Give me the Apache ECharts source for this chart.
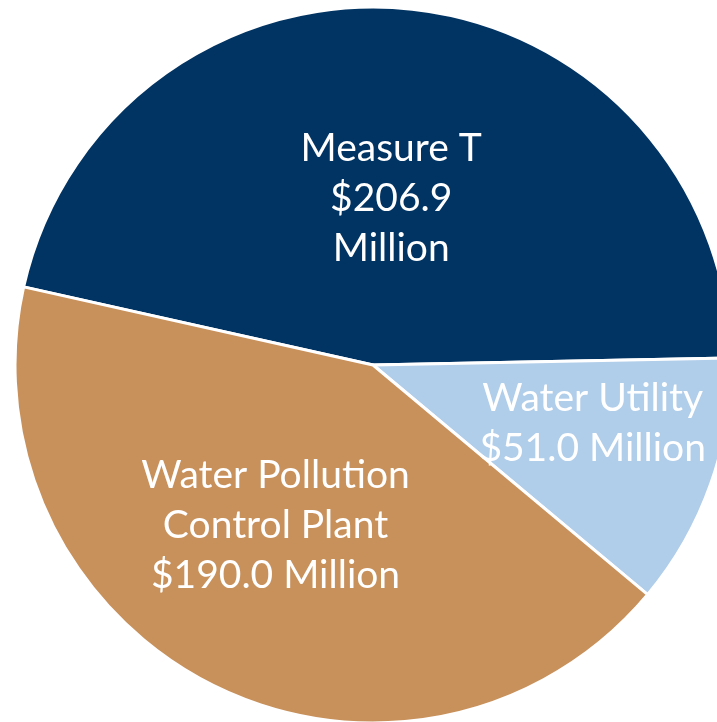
<!DOCTYPE html>
<html>
<head>
<meta charset="utf-8">
<script src="https://cdn.jsdelivr.net/npm/echarts@6/dist/echarts.min.js"></script>
<style>
  html, body { margin: 0; padding: 0; background: #fff; }
  #chart { width: 717px; height: 722px; }
</style>
</head>
<body>
<div id="chart"></div>
<script>
const names = ['Measure T', 'Water Utility', 'Water Pollution Control Plant']
const values = [206.9, 51.0, 190.0]
const labels = [
  'Measure T\n$206.9\nMillion',
  'Water Utility\n$51.0 Million',
  'Water Pollution\nControl Plant\n$190.0 Million'
]
const colors = ['#023463', '#b0cdea', '#c8905a']
// nudges so the text sits where the original has it
const labelOffsets = [[0, 15], [48, -2], [-17, -3]]

const chart = echarts.init(document.getElementById('chart'))

chart.setOption({
  animation: false,
  series: [
    {
      type: 'pie',
      center: [373, 365],
      radius: 358,
      startAngle: 167.4,
      clockwise: true,
      itemStyle: { borderColor: '#ffffff', borderWidth: 3 },
      label: {
        show: true,
        position: 'inside',
        color: '#ffffff',
        fontFamily: 'Lato',
        fontSize: 39,
        lineHeight: 50,
        align: 'center'
      },
      labelLine: { show: false },
      emphasis: { disabled: true },
      data: values.map((v, i) => ({
        value: v,
        name: names[i],
        itemStyle: { color: colors[i] },
        label: { formatter: labels[i], offset: labelOffsets[i] }
      }))
    }
  ]
})
</script>
</body>
</html>
